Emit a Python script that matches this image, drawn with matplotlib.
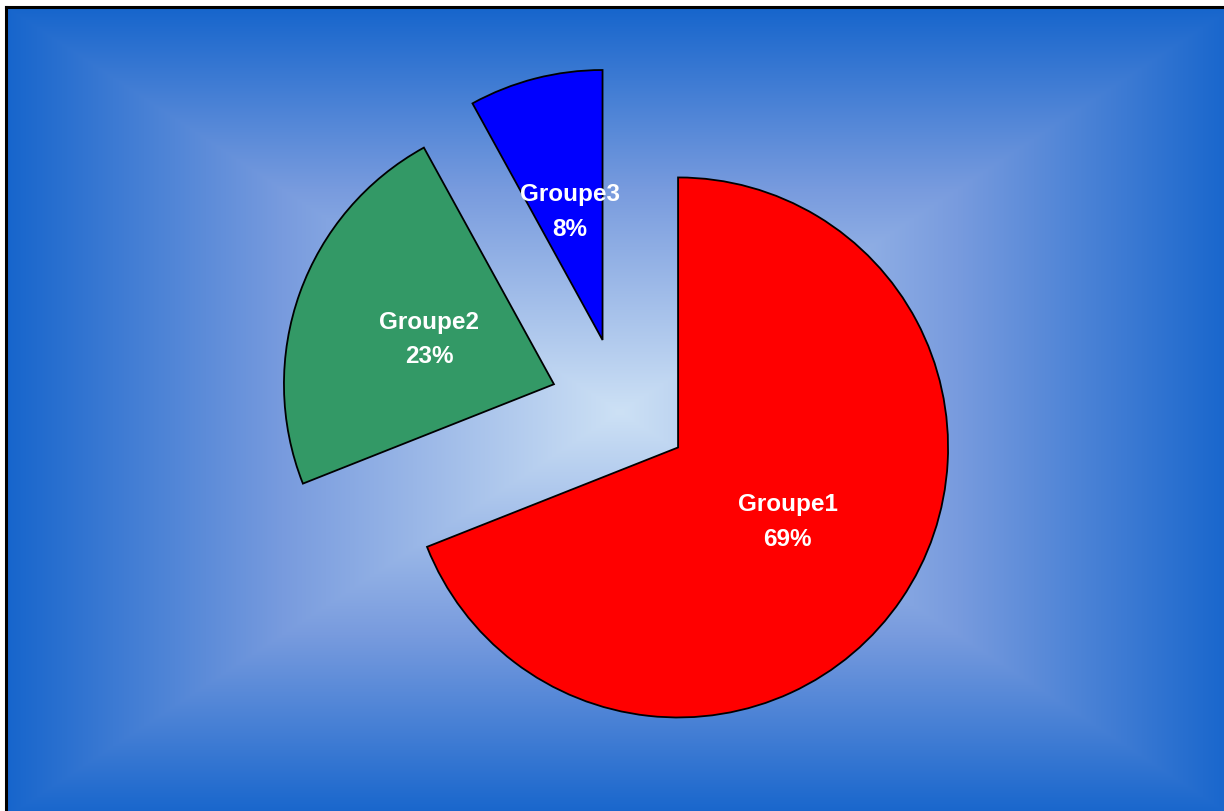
import matplotlib
matplotlib.use("Agg")
import matplotlib.pyplot as plt
import numpy as np

labels = ["Groupe1", "Groupe2", "Groupe3"]
values = [69, 23, 8]
colors = ["#ff0000", "#339966", "#0000ff"]

W, H = 1224, 811
fig = plt.figure(figsize=(W / 100, H / 100), dpi=100)
fig.patch.set_facecolor("white")

# background: rectangular gradient, light in the middle, blue at edges
bx0, by0, bx1, by1 = 6, 7, 1234, 817
xs = np.arange(bx0, W) + 0.5
ys = np.arange(by0, H) + 0.5
X, Y = np.meshgrid(xs, ys)
cx, cy = (bx0 + bx1) / 2, (by0 + by1) / 2
t = np.maximum(np.abs(X - cx) / ((bx1 - bx0) / 2), np.abs(Y - cy) / ((by1 - by0) / 2))
t = np.clip(t, 0, 1)
stops = [0.0, 0.55, 1.0]
cols = np.array([[205, 225, 245], [120, 155, 222], [22, 101, 204]]) / 255
img = np.dstack([np.interp(t, stops, cols[:, k]) for k in range(3)])
bg = fig.add_axes([bx0 / W, 0, (W - bx0) / W, (H - by0) / H])
bg.imshow(img, aspect="auto", extent=(0, 1, 0, 1))
bg.set_axis_off()
# black frame on top / left
fig.add_artist(plt.Line2D([bx0 / W, 1], [1 - by0 / H, 1 - by0 / H], color="black", lw=2.2))
fig.add_artist(plt.Line2D([bx0 / W, bx0 / W], [0, 1 - by0 / H], color="black", lw=2.2))

# pie
ax = fig.add_axes([0, 0, 1, 1])
ax.set_facecolor("none")
pcx, pcy, r = 620, 408, 270
it = iter(range(len(labels)))

def lab(p):
    i = next(it)
    return "%s\n%d%%" % (labels[i], round(p))

wedges, texts, autotexts = ax.pie(values, colors=colors, startangle=90, counterclock=False,
                                  explode=[0.26] * 3, autopct=lab, pctdistance=0.49,
                                  wedgeprops=dict(edgecolor="black", linewidth=1.3))
for a in autotexts:
    a.set_color("white")
    a.set_fontweight("bold")
    a.set_fontsize(17.5)
    a.set_family("Liberation Sans")
    a.set_linespacing(1.65)
ax.set_aspect("auto")
ax.set_xlim(-pcx / r, (W - pcx) / r)
ax.set_ylim((pcy - H) / r, pcy / r)
ax.set_axis_off()

fig.savefig("out.png", dpi=100)
